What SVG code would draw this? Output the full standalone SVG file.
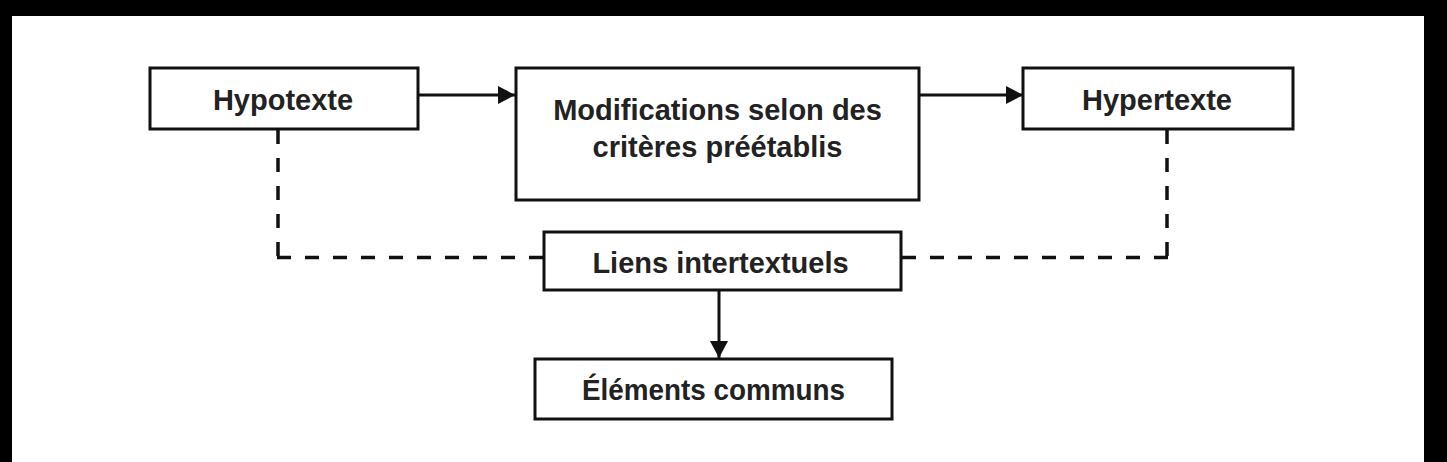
<svg xmlns="http://www.w3.org/2000/svg" width="1447" height="462" viewBox="0 0 1447 462">
<style>
.box{fill:#fff;stroke:#111;stroke-width:3}
.lbl{font-family:"Liberation Sans",Arial,sans-serif;font-weight:bold;font-size:29px;fill:#222;text-anchor:middle}
.solid{fill:none;stroke:#111;stroke-width:3}
.dash{fill:none;stroke:#111;stroke-width:3.5;stroke-dasharray:14 14}
</style>
<defs>
<marker id="ah" viewBox="0 0 17 18" refX="17" refY="9" markerWidth="17" markerHeight="18" markerUnits="userSpaceOnUse" orient="auto">
<path d="M0,0 L17,9 L0,18 Z" fill="#111"/>
</marker>
</defs>
<rect x="0" y="0" width="1447" height="462" fill="#000"/>
<rect x="12" y="16" width="1412" height="446" fill="#fff"/>
<g id="connectors">
<line class="solid" x1="418" y1="95" x2="515" y2="95" marker-end="url(#ah)"/>
<line class="solid" x1="919" y1="95" x2="1023" y2="95" marker-end="url(#ah)"/>
<line class="solid" x1="719" y1="290" x2="719" y2="358" marker-end="url(#ah)"/>
<path class="dash" d="M543,257.5 L276.25,257.5"/>
<path class="dash" d="M278,130 L278,259"/>
<path class="dash" d="M902,257.5 L1168.75,257.5"/>
<path class="dash" d="M1167,130 L1167,259"/>
</g>
<g id="hypotexte">
<rect class="box" x="150" y="68" width="268" height="61"/>
<text class="lbl" x="283" y="110">Hypotexte</text>
</g>
<g id="modifications">
<rect class="box" x="516" y="68" width="403" height="132"/>
<text class="lbl" x="717.5" y="120">Modifications selon des</text>
<text class="lbl" x="717.5" y="157">critères préétablis</text>
</g>
<g id="hypertexte">
<rect class="box" x="1023" y="68" width="270" height="61"/>
<text class="lbl" x="1157" y="110">Hypertexte</text>
</g>
<g id="liens">
<rect class="box" x="544" y="232" width="357" height="58"/>
<text class="lbl" x="720.5" y="273">Liens intertextuels</text>
</g>
<g id="elements">
<rect class="box" x="535" y="359" width="357" height="60"/>
<text class="lbl" x="713.5" y="400" textLength="263" lengthAdjust="spacingAndGlyphs">Éléments communs</text>
</g>
</svg>
